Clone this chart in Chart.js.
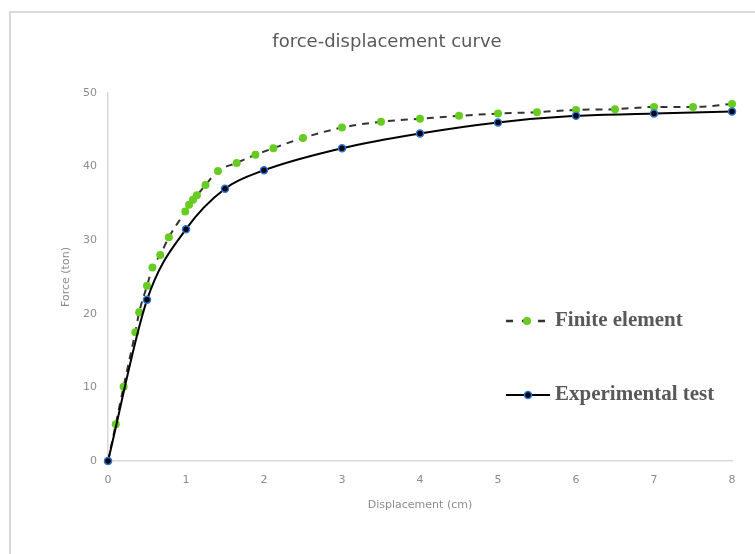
<!DOCTYPE html>
<html>
<head>
<meta charset="utf-8">
<script src="https://cdn.jsdelivr.net/npm/chart.js@4.4.0/dist/chart.umd.min.js"></script>
<style>
  html, body { margin: 0; padding: 0; background: #fff; }
  #wrap { width: 755px; height: 554px; }
</style>
</head>
<body>
<div id="wrap"><canvas id="fdChart" width="755" height="554"></canvas></div>
<script>
// finite element model (green dots, dashed line)
const feX = [0, 0.1, 0.2, 0.35, 0.4, 0.5, 0.57, 0.67, 0.78, 0.99, 1.04, 1.09, 1.14, 1.25, 1.41, 1.65, 1.89, 2.12, 2.5, 3, 3.5, 4, 4.5, 5, 5.5, 6, 6.5, 7, 7.5, 8];
const feY = [0, 5, 10.1, 17.5, 20.2, 23.8, 26.3, 28, 30.4, 33.9, 34.8, 35.5, 36.1, 37.5, 39.4, 40.5, 41.6, 42.5, 43.9, 45.3, 46.1, 46.5, 46.9, 47.2, 47.4, 47.7, 47.8, 48.1, 48.1, 48.5];

// experimental test (black dots, solid line)
const expX = [0, 0.5, 1, 1.5, 2, 3, 4, 5, 6, 7, 8];
const expY = [0, 21.9, 31.5, 37, 39.5, 42.5, 44.5, 46, 46.9, 47.2, 47.5];

const xTicks = [0, 1, 2, 3, 4, 5, 6, 7, 8];
const yTicks = [0, 10, 20, 30, 40, 50];

const GREEN = '#66cc22';
const BLUE = '#2f74d8';
const GRAY = '#8c8c8c';
const AXIS = '#d9d9d9';
const TEXT = '#595959';

const toPoints = (xs, ys) => xs.map((x, i) => ({ x: x, y: ys[i] }));

// outer frame + title, like the spreadsheet chart box
const framePlugin = {
    id: 'frame',
    beforeDraw(chart) {
        const ctx = chart.ctx;
        ctx.save();
        ctx.fillStyle = '#fff';
        ctx.fillRect(0, 0, chart.width, chart.height);
        ctx.strokeStyle = AXIS;
        ctx.lineWidth = 2;
        ctx.strokeRect(10, 12, chart.width + 20, chart.height + 20);

        ctx.fillStyle = TEXT;
        ctx.font = '18px "DejaVu Sans", sans-serif';
        ctx.textAlign = 'center';
        ctx.textBaseline = 'middle';
        ctx.fillText('force-displacement curve', 387, 42);
        ctx.restore();
    }
};

// legend sits inside the plot on the right
const legendPlugin = {
    id: 'insideLegend',
    afterDraw(chart) {
        const ctx = chart.ctx;
        ctx.save();
        ctx.font = 'bold 21px "Liberation Serif", "Times New Roman", serif';
        ctx.textBaseline = 'middle';

        // Finite element
        let y = 321;
        ctx.strokeStyle = '#333';
        ctx.lineWidth = 2.5;
        ctx.setLineDash([7, 9]);
        ctx.beginPath();
        ctx.moveTo(506, y);
        ctx.lineTo(549, y);
        ctx.stroke();
        ctx.setLineDash([]);
        ctx.beginPath();
        ctx.fillStyle = GREEN;
        ctx.arc(527, y, 4, 0, Math.PI * 2);
        ctx.fill();
        ctx.fillStyle = TEXT;
        ctx.fillText('Finite element', 555, y);

        // Experimental test
        y = 395;
        ctx.strokeStyle = '#000';
        ctx.lineWidth = 2;
        ctx.beginPath();
        ctx.moveTo(506, y);
        ctx.lineTo(550, y);
        ctx.stroke();
        ctx.beginPath();
        ctx.fillStyle = '#000';
        ctx.strokeStyle = BLUE;
        ctx.lineWidth = 1.5;
        ctx.arc(528, y, 3.5, 0, Math.PI * 2);
        ctx.fill();
        ctx.stroke();
        ctx.fillStyle = TEXT;
        ctx.fillText('Experimental test', 555, y);
        ctx.restore();
    }
};

new Chart(document.getElementById('fdChart'), {
    type: 'scatter',
    data: {
        datasets: [
            {
                label: 'Experimental test',
                data: toPoints(expX, expY),
                showLine: true,
                clip: false,
                borderColor: '#000',
                borderWidth: 2,
                cubicInterpolationMode: 'monotone',
                pointRadius: 3.5,
                pointBackgroundColor: '#000',
                pointBorderColor: BLUE,
                pointBorderWidth: 1.5
            },
            {
                label: 'Finite element',
                data: toPoints(feX, feY),
                showLine: true,
                clip: false,
                borderColor: '#333',
                borderWidth: 2,
                borderDash: [7, 6],
                cubicInterpolationMode: 'monotone',
                pointRadius: 4,
                pointBackgroundColor: GREEN,
                pointBorderWidth: 0
            }
        ]
    },
    options: {
        responsive: false,
        animation: false,
        layout: { padding: { left: 10, right: 23, top: 93, bottom: 0 } },
        plugins: {
            legend: { display: false },
            tooltip: { enabled: false },
            title: { display: false }
        },
        scales: {
            x: {
                type: 'linear',
                min: 0,
                max: 8,
                afterFit: scale => { scale.height = 93; },
                afterBuildTicks: scale => { scale.ticks = xTicks.map(v => ({ value: v })); },
                grid: { display: false, drawTicks: false },
                border: { display: true, color: AXIS, width: 1.5 },
                ticks: {
                    color: GRAY,
                    padding: 13,
                    font: { family: '"DejaVu Sans", sans-serif', size: 11 }
                },
                title: {
                    display: true,
                    text: 'Displacement (cm)',
                    color: GRAY,
                    font: { family: '"DejaVu Sans", sans-serif', size: 11 },
                    padding: { top: 0, bottom: 42 }
                }
            },
            y: {
                type: 'linear',
                min: 0,
                max: 50,
                afterFit: scale => { scale.width = 98; },
                afterBuildTicks: scale => { scale.ticks = yTicks.map(v => ({ value: v })); },
                grid: { display: false, drawTicks: false },
                border: { display: true, color: AXIS, width: 1.5 },
                ticks: {
                    color: GRAY,
                    padding: 11,
                    font: { family: '"DejaVu Sans", sans-serif', size: 11 }
                },
                title: {
                    display: true,
                    text: 'Force (ton)',
                    color: GRAY,
                    font: { family: '"DejaVu Sans", sans-serif', size: 11 },
                    padding: { top: 50, bottom: 0 }
                }
            }
        }
    },
    plugins: [framePlugin, legendPlugin]
});
</script>
</body>
</html>
